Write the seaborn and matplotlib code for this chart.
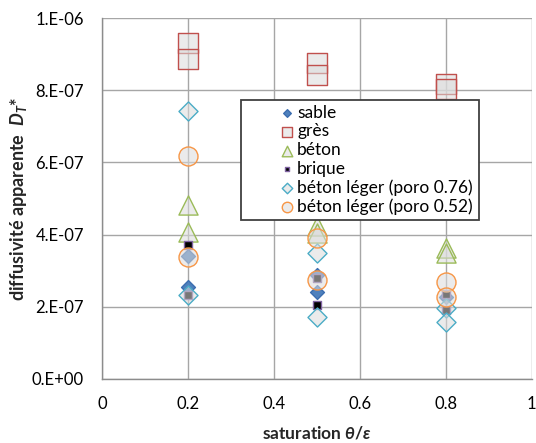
import matplotlib
matplotlib.use("Agg")
import matplotlib.pyplot as plt
import seaborn as sns
import pandas as pd
from matplotlib.ticker import FuncFormatter, MultipleLocator
from matplotlib.patches import Rectangle

sns.set_theme(style="white")
plt.rcParams['font.family'] = ['Lato', 'DejaVu Sans']
plt.rcParams['mathtext.fontset'] = 'custom'
plt.rcParams['mathtext.it'] = 'Lato:style=italic:weight=bold'
plt.rcParams['mathtext.bf'] = 'Lato:weight=bold'
plt.rcParams['mathtext.rm'] = 'Lato:weight=bold'

series_names = ["sable", "grès", "béton", "brique",
                "béton léger (poro 0.76)", "béton léger (poro 0.52)"]

sable_x = [0.2, 0.2, 0.5, 0.5, 0.8]
sable_y = [3.40e-7, 2.56e-7, 2.88e-7, 2.42e-7, 2.28e-7]

gres_x = [0.2, 0.2, 0.5, 0.5, 0.8, 0.8]
gres_y = [9.30e-7, 8.87e-7, 8.75e-7, 8.43e-7, 8.18e-7, 8.05e-7]

beton_x = [0.2, 0.2, 0.5, 0.5, 0.8, 0.8]
beton_y = [4.82e-7, 4.08e-7, 4.25e-7, 4.05e-7, 3.63e-7, 3.49e-7]

brique_x = [0.2, 0.2, 0.5, 0.5, 0.8, 0.8]
brique_y = [3.71e-7, 2.32e-7, 2.80e-7, 2.05e-7, 2.35e-7, 1.91e-7]

bl76_x = [0.2, 0.2, 0.5, 0.5, 0.8, 0.8]
bl76_y = [7.44e-7, 2.33e-7, 3.48e-7, 1.73e-7, 1.96e-7, 1.59e-7]

bl52_x = [0.2, 0.2, 0.5, 0.5, 0.8, 0.8]
bl52_y = [6.19e-7, 3.39e-7, 3.90e-7, 2.74e-7, 2.70e-7, 2.28e-7]

xs = [sable_x, gres_x, beton_x, brique_x, bl76_x, bl52_x]
ys = [sable_y, gres_y, beton_y, brique_y, bl76_y, bl52_y]

gray_fill = (0.86, 0.86, 0.86, 0.55)
styles = [
    dict(marker="D", s=50, facecolor="#4f81bd", edgecolor="#3c6eb0", lw=1.0),
    dict(marker="s", s=190, facecolor=gray_fill, edgecolor="#c0504d", lw=1.0),
    dict(marker="^", s=190, facecolor=gray_fill, edgecolor="#9bbb59", lw=1.0),
    dict(marker="s", s=36, facecolor="#000000", edgecolor="#8064a2", lw=1.0),
    dict(marker="D", s=94, facecolor=gray_fill, edgecolor="#4bacc6", lw=1.0),
    dict(marker="o", s=187, facecolor=gray_fill, edgecolor="#f79646", lw=1.0),
]

fig = plt.figure(figsize=(5.36, 4.43), dpi=100)
ax = fig.add_axes([0.190, 0.1445, 0.802, 0.8145])

for name, x, y, st in zip(series_names, xs, ys, styles):
    df = pd.DataFrame({"x": x, "y": y})
    sns.scatterplot(data=df, x="x", y="y", ax=ax, marker=st["marker"], s=st["s"],
                    color=st["facecolor"], edgecolor=st["edgecolor"],
                    linewidth=st["lw"], label=name, zorder=3)

ax.set_xlim(0, 1)
ax.set_ylim(0, 1e-6)
ax.xaxis.set_major_locator(MultipleLocator(0.2))
ax.yaxis.set_major_locator(MultipleLocator(2e-7))

def xfmt(v, p):
    if abs(v) < 1e-9:
        return "0"
    if abs(v - 1) < 1e-9:
        return "1"
    return f"{v:.1f}"

def yfmt(v, p):
    if abs(v) < 1e-15:
        return "0.E+00"
    exp = int(f"{v:.0e}".split("e")[1])
    mant = v / 10**exp
    return f"{mant:.0f}.E{exp:+03d}"

ax.xaxis.set_major_formatter(FuncFormatter(xfmt))
ax.yaxis.set_major_formatter(FuncFormatter(yfmt))
ax.tick_params(axis="both", labelsize=12, colors="#000000", length=0)
ax.tick_params(axis="y", pad=13)
ax.tick_params(axis="x", pad=12)

ax.grid(True, color="#a6a6a6", lw=1.0, zorder=0)
ax.set_axisbelow(True)
for side in ["top", "right"]:
    ax.spines[side].set_visible(False)
for side in ["left", "bottom"]:
    ax.spines[side].set_color("#8c8c8c")
    ax.spines[side].set_linewidth(1.0)

ax.set_xlabel(r"saturation $\theta/\varepsilon$", fontsize=12.5, fontweight="bold", labelpad=9)
ax.set_ylabel(r"diffusivité apparente  $D_T$*", fontsize=13, fontweight="bold", labelpad=2)

# legend frame
frame = Rectangle((0.3226, 0.4405), 0.5555, 0.3325, transform=ax.transAxes,
                  facecolor="white", edgecolor="#404040", lw=1.3, zorder=5)
ax.add_patch(frame)

leg = ax.legend(loc="center left", bbox_to_anchor=(0.41, 0.607),
                fontsize=12.5, frameon=False, borderpad=0.0,
                labelspacing=0.15, handletextpad=0.1, markerscale=0.55,
                borderaxespad=0, handlelength=1.0)
leg.set_zorder(6)
for t in leg.get_texts():
    t.set_color("#000000")

fig.savefig("out.png", dpi=100)
